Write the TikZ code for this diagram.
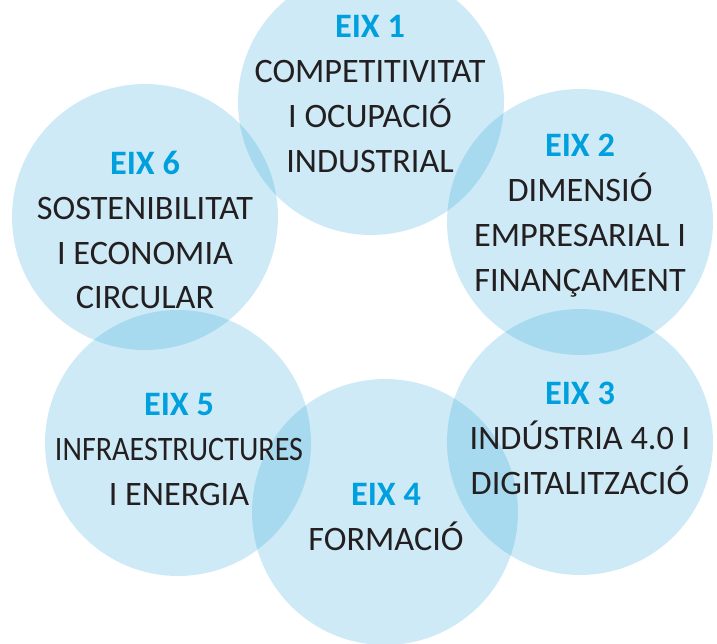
\documentclass[tikz,border=0pt]{standalone}
\usepackage{fontspec}
\setmainfont{Carlito}
\usetikzlibrary{positioning}
\definecolor{eixblue}{RGB}{0,160,223}
\definecolor{circblue}{RGB}{10,150,210}
\definecolor{txtgray}{RGB}{35,31,32}
\newcommand{\eixtitle}[1]{{\bfseries\color{eixblue}EIX #1}}

\begin{document}
\begin{tikzpicture}[x=0.02cm, y=-0.02cm,
    eix/.style={circle, fill=circblue, fill opacity=0.2, minimum size=5.32cm, inner sep=0pt},
    eixtext/.style={anchor=north, align=center, inner sep=0pt, text=txtgray,
      font=\fontsize{19.5}{25.6}\selectfont}]

  \useasboundingbox (0,0) rectangle (717,643);
  \clip (0,0) rectangle (717,643);

  % the six circles
  \node[eix] (eix1) at (371,102) {};
  \node[eix] (eix2) at (580,222) {};
  \node[eix] (eix3) at (580,442) {};
  \node[eix] (eix4) at (385,512) {};
  \node[eix] (eix5) at (178,443) {};
  \node[eix] (eix6) at (145,217) {};

  % texts
  \node[eixtext] (txt1) at (370,15.3) {\eixtitle{1}\\COMPETITIVITAT\\I OCUPACIÓ\\INDUSTRIAL};
  \node[eixtext] (txt2) at (580,133.3) {\eixtitle{2}\\DIMENSIÓ\\EMPRESARIAL I\\FINANÇAMENT};
  \node[eixtext] (txt3) at (580,381.3) {\eixtitle{3}\\INDÚSTRIA 4.0 I\\DIGITALITZACIÓ};
  \node[eixtext] (txt4) at (386,483.3) {\eixtitle{4}\\FORMACIÓ};
  \node[eixtext] (txt5) at (179,393.3) {\eixtitle{5}\\\scalebox{0.88}[1]{INFRAESTRUCTURES}\\I ENERGIA};
  \node[eixtext] (txt6) at (145,150.3) {\eixtitle{6}\\SOSTENIBILITAT\\I ECONOMIA\\CIRCULAR};
\end{tikzpicture}
\end{document}
